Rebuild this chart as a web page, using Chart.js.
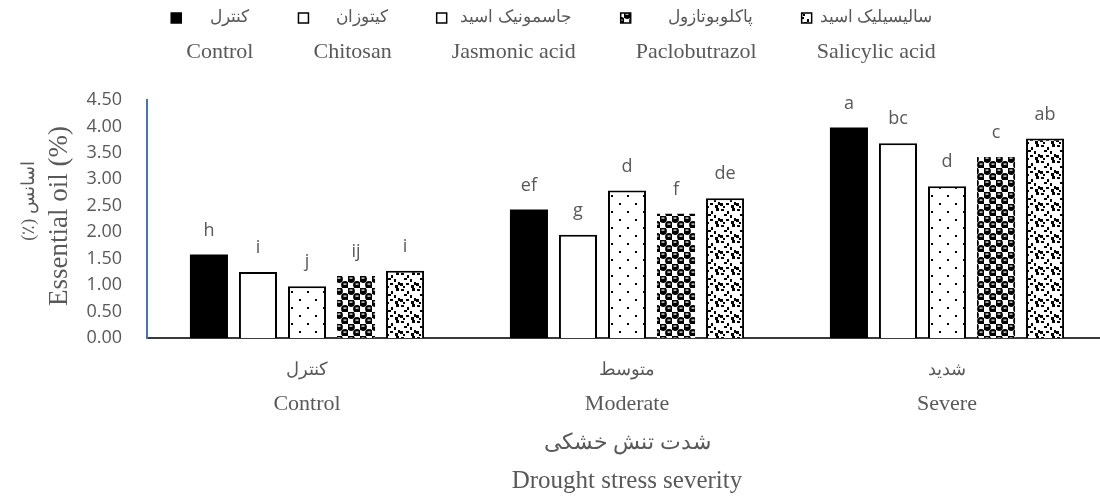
<!DOCTYPE html>
<html>
<head>
<meta charset="utf-8">
<script src="https://cdn.jsdelivr.net/npm/chart.js@4.4.1/dist/chart.umd.min.js"></script>
<style>
  html, body { margin: 0; padding: 0; background: #fff; overflow: hidden; }
  #wrap { width: 1110px; height: 500px; }
</style>
</head>
<body>
<div id="wrap"><canvas id="oilChart" width="1110" height="500"></canvas></div>
<script>
// drought levels (x categories)
const groupsFa = ['کنترل', 'متوسط', 'شدید'];
const groupsEn = ['Control', 'Moderate', 'Severe'];

// treatments (series)
const seriesFa = ['کنترل', 'کیتوزان', 'جاسمونیک اسید', 'پاکلوبوتازول', 'سالیسیلیک اسید'];
const seriesEn = ['Control', 'Chitosan', 'Jasmonic acid', 'Paclobutrazol', 'Salicylic acid'];

// essential oil (%) per drought level
const controlVals = [1.58, 2.43, 3.98];
const chitosanVals = [1.25, 1.95, 3.68];
const jasmonicVals = [0.98, 2.79, 2.87];
const pacloVals = [1.17, 2.35, 3.42];
const salicylicVals = [1.27, 2.64, 3.77];

// mean comparison letters
const controlLetters = ['h', 'ef', 'a'];
const chitosanLetters = ['i', 'g', 'bc'];
const jasmonicLetters = ['j', 'd', 'd'];
const pacloLetters = ['ij', 'f', 'c'];
const salicylicLetters = ['i', 'de', 'ab'];

const yTicks = [0, 0.5, 1, 1.5, 2, 2.5, 3, 3.5, 4, 4.5];

const TEXT = '#595959';
const SERIF = '"Liberation Serif", "Times New Roman", serif';
const SANS = '"Open Sans", sans-serif';

function makePattern(size, draw) {
  const c = document.createElement('canvas');
  c.width = size;
  c.height = size;
  const g = c.getContext('2d');
  g.fillStyle = '#fff';
  g.fillRect(0, 0, size, size);
  g.fillStyle = '#000';
  draw(g);
  return c.getContext('2d').createPattern(c, 'repeat');
}

const dotFill = makePattern(16, (g) => {
  g.fillRect(3, 3, 2, 2);
  g.fillRect(11, 11, 2, 2);
});

const sphereFill = makePattern(12, (g) => {
  g.beginPath();
  g.arc(3, 3, 3.9, 0, Math.PI * 2);
  g.fill();
  g.beginPath();
  g.arc(9, 9, 3.9, 0, Math.PI * 2);
  g.fill();
  g.fillStyle = '#fff';
  g.fillRect(1.5, 1.5, 3, 1.2);
  g.fillRect(7.5, 7.5, 3, 1.2);
});

const confettiFill = makePattern(16, (g) => {
  [[1, 1, 3, 2], [7, 3, 2, 3], [12, 0, 3, 3], [4, 6, 3, 2], [10, 7, 2, 3],
   [14, 10, 2, 3], [0, 11, 3, 3], [6, 11, 3, 2], [11, 13, 3, 3], [3, 14, 2, 2]]
    .forEach((r) => g.fillRect(r[0], r[1], r[2], r[3]));
});

const fills = ['#000', '#fff', dotFill, sphereFill, confettiFill];
const borders = [0, 2, 2, 0, 2];
const letters = [controlLetters, chitosanLetters, jasmonicLetters, pacloLetters, salicylicLetters];

const textPlugin = {
  id: 'oilTexts',
  afterDraw(chart) {
    const ctx = chart.ctx;
    ctx.save();
    ctx.fillStyle = TEXT;

    // letters above bars
    ctx.font = '18px ' + SANS;
    ctx.textAlign = 'center';
    ctx.textBaseline = 'middle';
    chart.data.datasets.forEach((ds, i) => {
      chart.getDatasetMeta(i).data.forEach((bar, j) => {
        ctx.fillText(letters[i][j], bar.x, bar.y - 24);
      });
    });

    // category labels
    const xs = chart.scales.x;
    groupsEn.forEach((g, j) => {
      const x = xs.getPixelForValue(j);
      ctx.direction = 'rtl';
      ctx.font = '18px ' + SERIF;
      ctx.fillText(groupsFa[j], x, 370);
      ctx.direction = 'ltr';
      ctx.font = '22px ' + SERIF;
      ctx.fillText(g, x, 404);
    });

    // x title
    const midX = 627;
    ctx.direction = 'rtl';
    ctx.font = '22px ' + SERIF;
    ctx.fillText('شدت تنش خشکی', midX, 443);
    ctx.direction = 'ltr';
    ctx.font = '25px ' + SERIF;
    ctx.fillText('Drought stress severity', midX, 481);

    // y title
    ctx.save();
    ctx.translate(29, 201);
    ctx.rotate(-Math.PI / 2);
    ctx.direction = 'rtl';
    ctx.font = '18px ' + SERIF;
    ctx.fillText('اسانس (٪)', 0, 0);
    ctx.restore();
    ctx.save();
    ctx.translate(60, 216);
    ctx.rotate(-Math.PI / 2);
    ctx.font = '27px ' + SERIF;
    ctx.fillText('Essential oil (%)', 0, 0);
    ctx.restore();

    // legend: key at the left of the text block, lines right-aligned
    ctx.font = '22px ' + SERIF;
    const gap = 60;
    const widths = seriesEn.map((t) => ctx.measureText(t).width);
    const total = widths.reduce((a, b) => a + b, 0) + gap * (widths.length - 1);
    let x0 = 561 - total / 2;
    seriesEn.forEach((t, i) => {
      const w = widths[i];
      ctx.textAlign = 'left';
      ctx.direction = 'ltr';
      ctx.font = '22px ' + SERIF;
      ctx.fillText(t, x0, 52);
      ctx.direction = 'rtl';
      ctx.textAlign = 'right';
      ctx.font = '17px ' + SERIF;
      const right = x0 + w - 4;
      ctx.fillText(seriesFa[i], right, 18);
      const faLeft = right - ctx.measureText(seriesFa[i]).width;
      const bx = Math.min(x0 - 15, faLeft - 16);
      ctx.fillStyle = fills[i];
      ctx.fillRect(bx, 13, 10, 10);
      ctx.strokeStyle = '#000';
      ctx.lineWidth = 1.5;
      ctx.strokeRect(bx, 13, 10, 10);
      ctx.fillStyle = TEXT;
      x0 += w + gap;
    });
    ctx.restore();
  },
};

new Chart(document.getElementById('oilChart'), {
  type: 'bar',
  data: {
    labels: groupsEn,
    datasets: [controlVals, chitosanVals, jasmonicVals, pacloVals, salicylicVals].map((vals, i) => ({
      label: seriesEn[i],
      data: vals,
      backgroundColor: fills[i],
      borderColor: '#000',
      borderWidth: borders[i],
      categoryPercentage: 0.766,
      barPercentage: 0.776,
    })),
  },
  options: {
    responsive: false,
    animation: false,
    devicePixelRatio: 1,
    layout: { padding: { top: 100, right: 3, left: 0, bottom: 0 } },
    plugins: { legend: { display: false }, tooltip: { enabled: false } },
    scales: {
      x: {
        grid: { display: false, drawTicks: false },
        border: { display: true, color: '#3a3a3a', width: 2 },
        ticks: { display: false },
        afterFit(s) { s.height = 162; },
      },
      y: {
        min: 0,
        max: 4.5,
        afterBuildTicks(s) { s.ticks = yTicks.map((v) => ({ value: v })); },
        ticks: {
          padding: 25,
          color: TEXT,
          font: { family: 'Open Sans', size: 18 },
          callback: (v) => Number(v).toFixed(2),
        },
        grid: { display: false, drawTicks: false },
        border: { display: true, color: '#4472C4', width: 2 },
        afterFit(s) { s.width = 147; },
      },
    },
  },
  plugins: [textPlugin],
});
</script>
</body>
</html>
